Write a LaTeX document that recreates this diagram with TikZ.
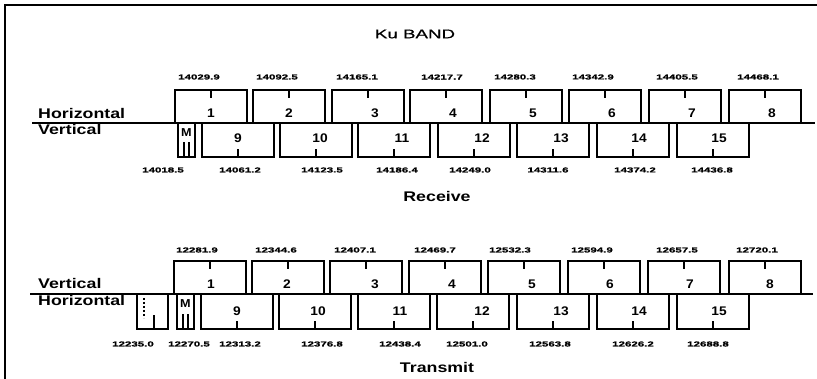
\documentclass[tikz,border=0pt]{standalone}
\usepackage{fontspec}
\setmainfont{Liberation Sans}
\newfontfamily\lblfont[FakeStretch=1.27]{Liberation Sans Bold}
\newfontfamily\frqfont[FakeStretch=1.6,FakeBold=0.8]{Liberation Sans Bold}
\newfontfamily\numfont[FakeStretch=1.1]{Liberation Sans Bold}
\newfontfamily\ttlfont[FakeStretch=1.5,FakeBold=0.6]{Liberation Sans}
\begin{document}
\begin{tikzpicture}[x=1pt,y=-1pt,
  chan/.style={draw, line width=1.3pt, minimum width=72pt, inner sep=0pt, outer sep=0pt, anchor=north west},
  upchan/.style={chan, minimum height=33pt},
  lochan/.style={chan, minimum height=34pt},
  tickline/.style={line width=1.3pt},
  baseline/.style={line width=1.5pt},
  frameline/.style={line width=1.5pt},
  num/.style={font=\numfont\fontsize{12.5}{13}\selectfont, inner sep=0pt},
  mlab/.style={font=\numfont\fontsize{11.5}{12}\selectfont, inner sep=0pt},
  frq/.style={font=\frqfont\fontsize{7.2}{8}\selectfont, inner sep=0pt},
  pol/.style={font=\lblfont\fontsize{14}{15}\selectfont, inner sep=0pt, anchor=west},
  ttl/.style={font=\lblfont\fontsize{14}{15}\selectfont, inner sep=0pt}
]
\useasboundingbox (0,0) rectangle (817,379);
% frame
\coordinate (fa) at (5,379);
\coordinate (fb) at (5,5);
\coordinate (fc) at (817,5);
\draw[frameline] (fa) -- (fb) -- (fc);

% title
\node[font=\ttlfont\fontsize{12.5}{13}\selectfont, inner sep=0pt] (title) at (415,34) {Ku BAND};

% ================= RECEIVE =================
\coordinate (rl0) at (32,123);
\coordinate (rl1) at (815,123);
\draw[baseline] (rl0) -- (rl1);
\node[pol] (rhor) at (38,113) {Horizontal};
\node[pol] (rver) at (38,129) {Vertical};

\foreach \i/\x/\dx/\fx/\fl in {1/175/0/199/14029.9, 2/253/0/277/14092.5, 3/332/7/357/14165.1,
  4/410/7/442/14217.7, 5/490/7/515/14280.3, 6/569/7/593/14342.9, 7/649/7/677/14405.5, 8/729/7/758/14468.1}{
  \node[upchan] (ru\i) at (\x,90) {};
  \draw[tickline] (ru\i.north) -- ++(0,8);
  \node[num] (run\i) at ({\x+36+\dx},113) {\i};
  \node[frq] (ruf\i) at (\fx,77) {\fl};
}
\foreach \i/\x/\dx/\fx/\fl in {9/202/0/240/14061.2, 10/280/4/322/14123.5, 11/358/8/397/14186.4,
  12/438/8/470/14249.0, 13/517/8/548/14311.6, 14/597/6/635/14374.2, 15/677/6/712/14436.8}{
  \node[lochan] (rd\i) at (\x,123) {};
  \draw[tickline] (rd\i.south) -- ++(0,-8);
  \node[num] (rdn\i) at ({\x+36+\dx},138) {\i};
  \node[frq] (rdf\i) at (\fx,170) {\fl};
}
\node[lochan, minimum width=17pt] (rm) at (178,123) {};
\node[mlab] (rmt) at (186.5,133) {M};
\draw[tickline] ([xshift=-2.5pt]rm.south) -- ++(0,-15);
\draw[tickline] ([xshift=2.5pt]rm.south) -- ++(0,-15);
\node[frq] (rmf) at (163,170) {14018.5};
\node[ttl] (recv) at (437,196) {Receive};

% ================= TRANSMIT =================
\coordinate (tl0) at (30,294);
\coordinate (tl1) at (813,294);
\draw[baseline] (tl0) -- (tl1);
\node[pol] (tver) at (38,283) {Vertical};
\node[pol] (thor) at (38,300) {Horizontal};

\foreach \i/\x/\dx/\fx/\fl in {1/174/1/197/12281.9, 2/252/-1/276/12344.6, 3/330/9/355/12407.1,
  4/409/7/435/12469.7, 5/488/8/510/12532.3, 6/568/6/592/12594.9, 7/648/6/677/12657.5, 8/729/5/757/12720.1}{
  \node[upchan] (tu\i) at (\x,261) {};
  \draw[tickline] (tu\i.north) -- ++(0,8);
  \node[num] (tun\i) at ({\x+36+\dx},284) {\i};
  \node[frq] (tuf\i) at (\fx,250) {\fl};
}
\foreach \i/\x/\dx/\fx/\fl in {9/201/0/240/12313.2, 10/279/3/322/12376.8, 11/358/6/400/12438.4,
  12/437/9/467/12501.0, 13/517/8/550/12563.8, 14/597/6/633/12626.2, 15/677/6/708/12688.8}{
  \node[chan, minimum height=35pt] (td\i) at (\x,294) {};
  \draw[tickline] (td\i.south) -- ++(0,-8);
  \node[num] (tdn\i) at ({\x+36+\dx},311) {\i};
  \node[frq] (tdf\i) at (\fx,344) {\fl};
}
\node[chan, minimum height=35pt, minimum width=17pt] (tm) at (177,294) {};
\node[mlab] (tmt) at (185.5,304) {M};
\draw[tickline] ([xshift=-2.5pt]tm.south) -- ++(0,-15);
\draw[tickline] ([xshift=2.5pt]tm.south) -- ++(0,-15);
\node[frq] (tmf) at (189,344) {12270.5};

\node[chan, minimum height=35pt, minimum width=31pt] (tx) at (137,294) {};
\coordinate (txd0) at (144,298);
\coordinate (txd1) at (144,318);
\draw[line width=1.8pt, dash pattern=on 1.8pt off 2.2pt] (txd0) -- (txd1);
\draw[tickline] ([xshift=1.5pt]tx.south) -- ++(0,-14);
\node[frq] (txf) at (133,344) {12235.0};

\node[ttl] (trans) at (437,367) {Transmit};
\end{tikzpicture}
\end{document}
